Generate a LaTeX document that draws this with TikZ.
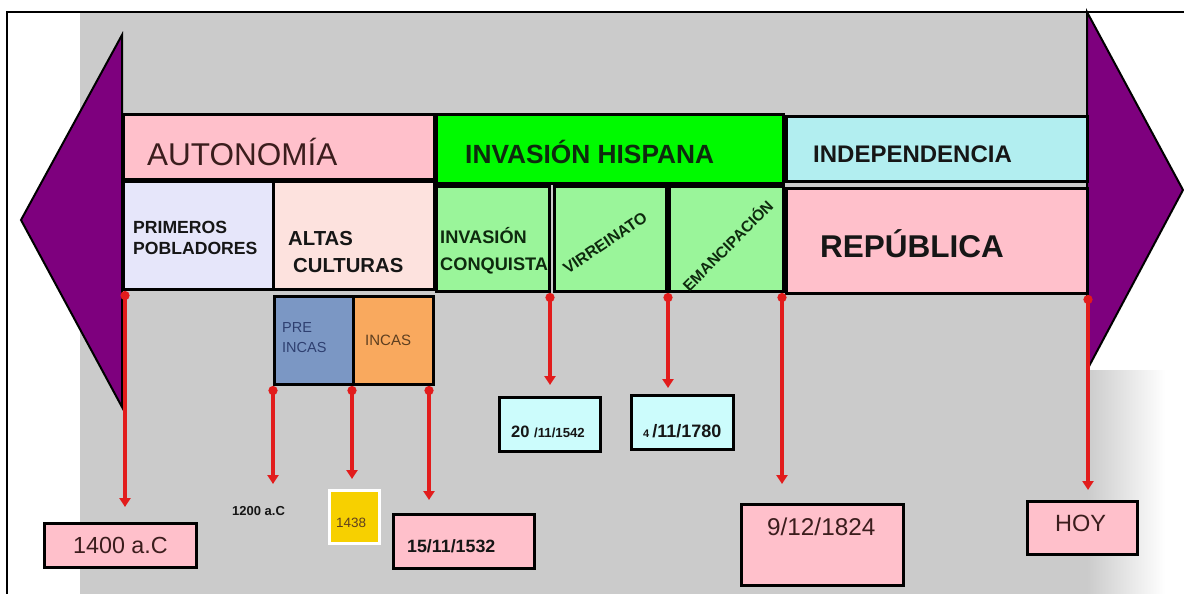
\documentclass[tikz,border=0pt]{standalone}
\usepackage{fontspec}
\setmainfont{Liberation Sans}
\usetikzlibrary{arrows.meta}
\definecolor{bggray}{HTML}{CBCBCB}
\definecolor{purp}{HTML}{7E007E}
\definecolor{pinkbox}{HTML}{FFC0CB}
\definecolor{lavbox}{HTML}{E6E6FA}
\definecolor{rosebox}{HTML}{FDE2DE}
\definecolor{brightgreen}{HTML}{00FA00}
\definecolor{lightgreen}{HTML}{9AF59A}
\definecolor{turq}{HTML}{B2EEF0}
\definecolor{cyanbox}{HTML}{CCFCFC}
\definecolor{steel}{HTML}{7B97C4}
\definecolor{orangebox}{HTML}{F9A95E}
\definecolor{goldbox}{HTML}{F7D000}
\definecolor{redline}{HTML}{E21C1C}
\definecolor{darktext}{HTML}{161616}
\definecolor{greentext}{HTML}{0E2A0E}
\definecolor{maroontext}{HTML}{3B1D1D}
\definecolor{bluetext}{HTML}{2E3F70}
\definecolor{browntext}{HTML}{5E3F20}
\tikzset{
  box/.style={draw=black, line width=3pt, inner sep=0pt, anchor=north west},
  purparrow/.style={fill=purp, draw=black, line width=2pt, line join=miter},
  txt/.style={anchor=base west, inner sep=0pt, text=darktext},
  redarrow/.style={draw=redline, line width=3.4pt, {Circle[length=9pt]}-{Triangle[width=11pt,length=9pt]}},
}
\newcommand{\fs}[1]{\fontsize{#1}{#1}\selectfont}
\begin{document}
\begin{tikzpicture}[x=1pt,y=-1pt]
\useasboundingbox (0,0) rectangle (1184,594);
\fill[white] (0,0) rectangle (1184,594);
\fill[bggray] (80,12) rectangle (1087,594);
\shade[left color=bggray, right color=white] (1087,370) rectangle (1165,594);
\draw[line width=2pt] (7,594) -- (7,12) -- (1184,12);

% purple arrows
\draw[purparrow] (122,35) -- (21,220) -- (122,407) -- cycle;
\draw[purparrow] (1087,12) -- (1183,190) -- (1087,370) -- cycle;

% top row
\node[box, fill=pinkbox, minimum width=311, minimum height=65] (aut) at (122,113) {};
\node[box, fill=brightgreen, minimum width=347, minimum height=69] (inv) at (435,113) {};
\node[box, fill=turq, minimum width=301, minimum height=65] (ind) at (785,115) {};
% second row
\node[box, fill=lavbox, minimum width=150, minimum height=108] (pp) at (122,180) {};
\node[box, fill=rosebox, minimum width=161, minimum height=108] (ac) at (272,180) {};
\node[box, fill=lightgreen, minimum width=113, minimum height=105] (ic) at (435,185) {};
\node[box, fill=lightgreen, minimum width=112, minimum height=105] (vir) at (553,185) {};
\node[box, fill=lightgreen, minimum width=114, minimum height=105] (ema) at (668,185) {};
\node[box, fill=pinkbox, minimum width=301, minimum height=105] (rep) at (785,187) {};
% third row
\node[box, fill=steel, minimum width=79, minimum height=88] (pre) at (273,295) {};
\node[box, fill=orangebox, minimum width=80, minimum height=88] (inc) at (352,295) {};

% date boxes
\node[box, fill=pinkbox, minimum width=152, minimum height=44] (d1400) at (43,522) {};
\node[box, draw=white, line width=2.5pt, fill=goldbox, minimum width=50, minimum height=53] (d1438) at (328,489) {};
\node[box, fill=pinkbox, minimum width=141, minimum height=54] (d1532) at (392,513) {};
\node[box, fill=cyanbox, minimum width=101, minimum height=54] (d1542) at (498,396) {};
\node[box, fill=cyanbox, minimum width=102, minimum height=54] (d1780) at (630,394) {};
\node[box, fill=pinkbox, minimum width=162, minimum height=81] (d1824) at (740,503) {};
\node[box, fill=pinkbox, minimum width=110, minimum height=53] (dhoy) at (1026,500) {};

% texts
\node[txt, text=maroontext, font=\fs{31.5}] (t-aut) at (147,165) {AUTONOMÍA};
\node[txt, text=greentext, font=\bfseries\fs{26.3}] (t-inv) at (465,163) {INVASIÓN HISPANA};
\node[txt, text=darktext, font=\bfseries\fs{24}] (t-ind) at (813,162) {INDEPENDENCIA};
\node[txt, text=darktext, font=\bfseries\fs{31.5}] (t-rep) at (820,257) {REPÚBLICA};
\node[txt, text=darktext, font=\bfseries\fs{17.6}] (t-pp1) at (133,233) {PRIMEROS};
\node[txt, text=darktext, font=\bfseries\fs{17.6}] (t-pp2) at (133,254) {POBLADORES};
\node[txt, text=darktext, font=\bfseries\fs{20.3}] (t-ac1) at (288,245) {ALTAS};
\node[txt, text=darktext, font=\bfseries\fs{20.3}] (t-ac2) at (293,272) {CULTURAS};
\node[txt, text=greentext, font=\bfseries\fs{18.2}] (t-ic1) at (440,243) {INVASIÓN};
\node[txt, text=greentext, font=\bfseries\fs{18.2}] (t-ic2) at (440,270) {CONQUISTA};
\node[anchor=center, inner sep=0pt, rotate=34, text=greentext, font=\bfseries\fs{16}] (t-vir) at (605,243) {VIRREINATO};
\node[anchor=center, inner sep=0pt, rotate=45, text=greentext, font=\bfseries\fs{15.5}] (t-ema) at (727,245) {EMANCIPACIÓN};
\node[txt, text=bluetext, font=\fs{14.5}] (t-pre1) at (282,332) {PRE};
\node[txt, text=bluetext, font=\fs{14.5}] (t-pre2) at (282,352) {INCAS};
\node[txt, text=browntext, font=\fs{15}] (t-inc) at (365,345) {INCAS};
\node[txt, text=maroontext, font=\fs{23.3}] (t-1400) at (73,553) {1400 a.C};
\node[txt, text=darktext, font=\bfseries\fs{13}] (t-1200) at (232,515) {1200 a.C};
\node[txt, text=browntext, font=\fs{13.5}] (t-1438) at (336,527) {1438};
\node[txt, text=darktext, font=\bfseries\fs{17.8}] (t-1532) at (407,552) {15/11/1532};
\node[txt, text=darktext, font=\bfseries] (t-1542) at (511,437) {{\fs{16.5}20 }{\fs{13.2}/11/1542}};
\node[txt, text=darktext, font=\bfseries] (t-1780) at (643,437) {{\fs{11}4 }{\fs{18}/11/1780}};
\node[txt, text=maroontext, font=\fs{24.3}] (t-1824) at (767,535) {9/12/1824};
\node[txt, text=maroontext, font=\fs{23.5}] (t-hoy) at (1055,531) {HOY};

% arrow end points
\coordinate (e1) at (125,507);
\coordinate (e2) at (273,484);
\coordinate (e3) at (352,479);
\coordinate (e4) at (429,500);
\coordinate (e5) at (550,385);
\coordinate (e6) at (668,388);
\coordinate (e7) at (782,484);
\coordinate (e8) at (1088,490);

% red arrows
\draw[redarrow] (e1 |- pp.south) -- (e1);
\draw[redarrow] (e2 |- pre.south) -- (e2);
\draw[redarrow] (e3 |- pre.south) -- (e3);
\draw[redarrow] (e4 |- inc.south) -- (e4);
\draw[redarrow] (e5 |- ic.south) -- (e5);
\draw[redarrow] (e6 |- ema.south) -- (e6);
\draw[redarrow] (e7 |- ema.south) -- (e7);
\draw[redarrow] (e8 |- rep.south) -- (e8);
\end{tikzpicture}
\end{document}
